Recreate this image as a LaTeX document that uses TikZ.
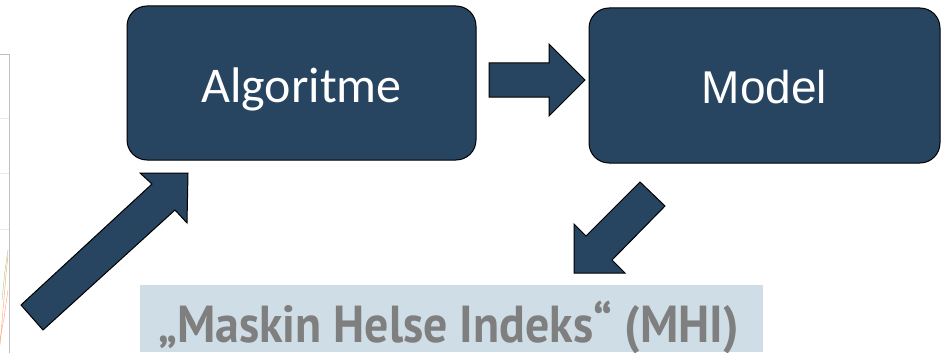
\documentclass[tikz,border=0pt]{standalone}
\usepackage{fontspec}
\setmainfont{Carlito}
\newfontfamily\modelfont{Liberation Sans}
\newfontfamily\mhifont[FakeStretch=0.92]{PT Sans}
\usetikzlibrary{calc}
\definecolor{boxblue}{RGB}{39,68,97}
\definecolor{mhiback}{RGB}{207,221,230}
\definecolor{mhigray}{RGB}{127,127,127}
\tikzset{
 procbox/.style={draw=black, line width=1pt, fill=boxblue, rounded corners=20pt, minimum width=349pt, minimum height=154pt, text=white, inner sep=0pt, text depth=0pt},
 blockarrow/.style={draw=black, line width=1pt, fill=boxblue, line join=miter},
}

\begin{document}
\begin{tikzpicture}[x=1pt,y=-1pt]
\useasboundingbox (0,0) rectangle (947,353);
\draw[black!25] (0,54) -- (9,54) -- (9,353);
\foreach \y in {118,173,229} {
 \draw[black!8] (0,\y) -- (9,\y);
}
\draw[orange!70] (0,345) -- (3,310) -- (6,275) -- (8,255);
\draw[red!40] (0,340) -- (4,318) -- (8,290);
\draw[green!50!black!40] (2,300) -- (5,270) -- (8,250);
\node[procbox, text height=38pt, font=\fontsize{50}{56}\selectfont] (alg) at (301.5,83) {Algoritme};
\node[procbox, minimum width=351pt, minimum height=155pt, text height=35pt, font=\modelfont\fontsize{46}{52}\selectfont] (model) at (764.5,85.5) {Model};
\node[fill=mhiback, inner sep=0pt, minimum width=623pt, text height=57pt, text depth=10pt, text=mhigray, font=\mhifont\bfseries\fontsize{52}{58}\selectfont] (mhi) at (451.5,318.5) {\hspace{-6pt}„Maskin Helse Indeks“ (MHI)};
\draw[blockarrow] (489,63) -- (549,63) -- (549,44) -- (585,80) -- (549,116) -- (549,97) -- (489,97) -- cycle;
\draw[blockarrow] (640,182) -- (665,206) -- (612,260) -- (625,273) -- (574,273) -- (574,224) -- (586,236) -- cycle;
\draw[blockarrow] (21,305) -- (152,184) -- (140,173) -- (188,173) -- (187,223) -- (175,210) -- (43,330) -- cycle;
\end{tikzpicture}
\end{document}
